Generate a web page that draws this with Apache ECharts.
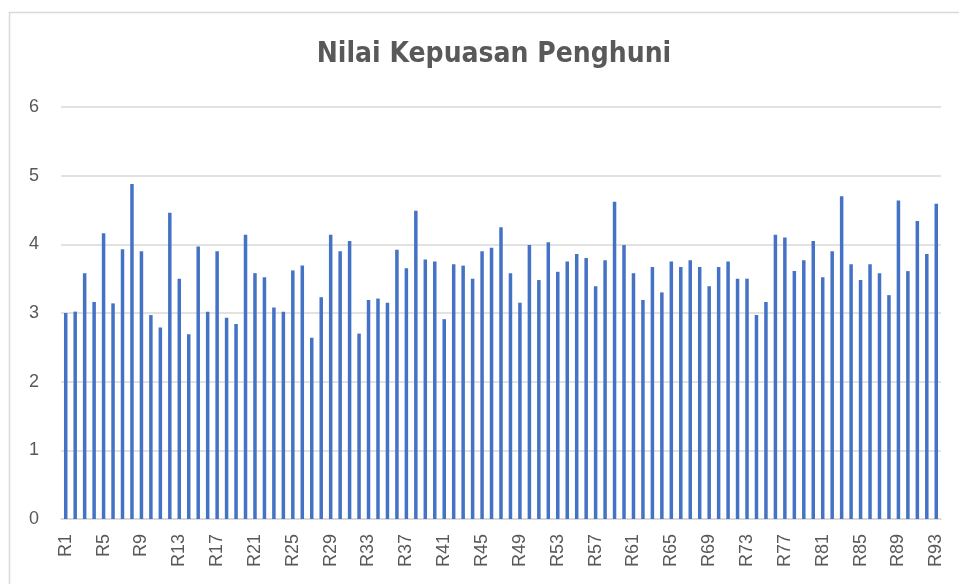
<!DOCTYPE html>
<html>
<head>
<meta charset="utf-8">
<script src="https://cdn.jsdelivr.net/npm/echarts@6/dist/echarts.min.js"></script>
<style>
  html, body { margin: 0; padding: 0; background: #fff; }
  #container { width: 959px; height: 584px; }
</style>
</head>
<body>
<div id="container"></div>
<script>
/* data */
const categories = [];
for (let i = 1; i <= 93; i++) categories.push('R' + i);

const values = [
    3.00, 3.02, 3.58, 3.16, 4.16, 3.14, 3.93, 4.88, 3.90, 2.97,
    2.79, 4.46, 3.50, 2.69, 3.97, 3.02, 3.90, 2.93, 2.84, 4.14,
    3.58, 3.52, 3.08, 3.02, 3.62, 3.69, 2.64, 3.23, 4.14, 3.90,
    4.05, 2.70, 3.19, 3.21, 3.15, 3.92, 3.65, 4.49, 3.78, 3.75,
    2.91, 3.71, 3.69, 3.50, 3.90, 3.95, 4.25, 3.58, 3.15, 3.99,
    3.48, 4.03, 3.60, 3.75, 3.86, 3.80, 3.39, 3.77, 4.62, 3.99,
    3.58, 3.19, 3.67, 3.30, 3.75, 3.67, 3.77, 3.67, 3.39, 3.67,
    3.75, 3.50, 3.50, 2.97, 3.16, 4.14, 4.10, 3.61, 3.77, 4.05,
    3.52, 3.90, 4.70, 3.71, 3.48, 3.71, 3.58, 3.26, 4.64, 3.61,
    4.34, 3.86, 4.59
];

const yMin = 0, yMax = 6, yStep = 1;

const dom = document.getElementById("container");
const myChart = echarts.init(dom);
const option = {
    animation: false,
    title: {
        text: 'Nilai Kepuasan Penghuni',
        left: 489,
        top: 36,
        textAlign: 'center',
        textStyle: {
            fontFamily: "'DejaVu Sans Condensed', 'Noto Sans', sans-serif",
            fontWeight: 'bold',
            fontSize: 28,
            color: '#595959'
        }
    },
    graphic: [{
        type: 'rect',
        shape: { x: 9.5, y: 12.5, width: 1000, height: 700 }, // chart frame
        style: { fill: 'none', stroke: '#d9d9d9', lineWidth: 1.5 },
        silent: true
    }],
    grid: { left: 61, right: 18, top: 107, bottom: 65 },
    xAxis: {
        type: 'category',
        data: categories,
        axisTick: { show: false },
        axisLine: { lineStyle: { color: '#d9d9d9', width: 1.5 } },
        axisLabel: {
            interval: 3,
            rotate: 90,
            margin: 15,
            fontFamily: 'Liberation Sans',
            fontSize: 18,
            color: '#595959'
        }
    },
    yAxis: {
        type: 'value',
        min: yMin,
        max: yMax,
        interval: yStep,
        axisLine: { show: false },
        axisTick: { show: false },
        splitLine: { lineStyle: { color: '#d9d9d9', width: 1.5 } },
        axisLabel: {
            margin: 22,
            fontFamily: 'Liberation Sans',
            fontSize: 18,
            color: '#595959'
        }
    },
    series: [{
        type: 'bar',
        data: values,
        barWidth: '37%',
        itemStyle: { color: '#4472c4' }
    }]
};
myChart.setOption(option);
</script>
</body>
</html>
